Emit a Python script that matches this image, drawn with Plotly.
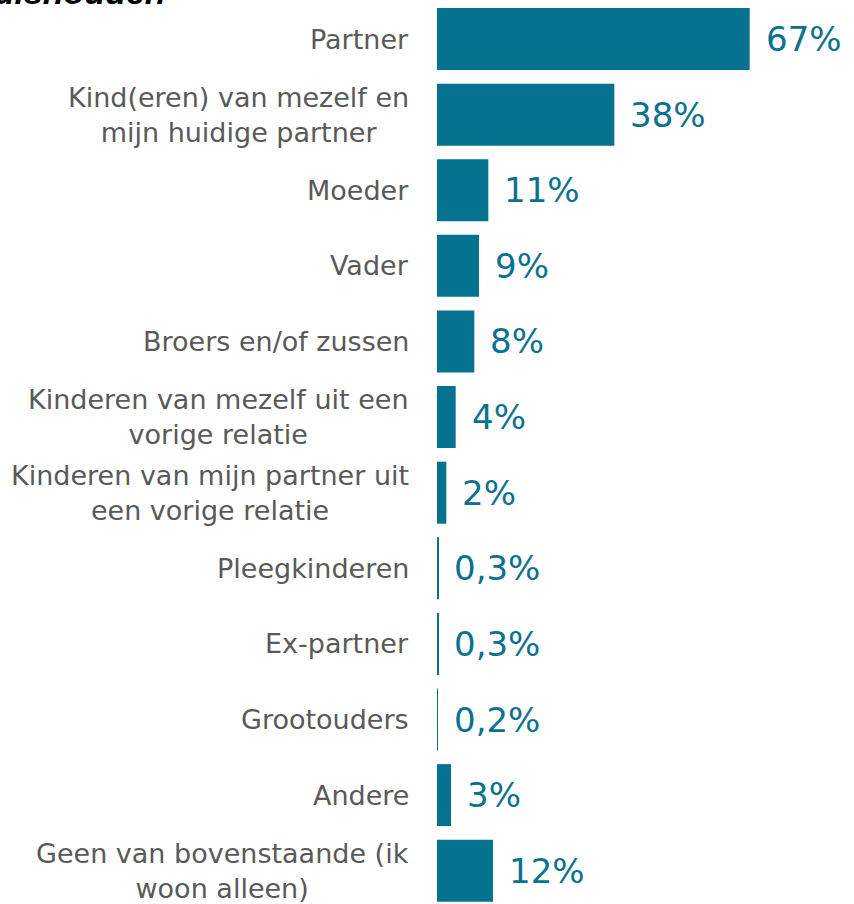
import plotly.graph_objects as go

categories = [
    "Partner",
    "Kind(eren) van mezelf en<br>mijn huidige partner",
    "Moeder",
    "Vader",
    "Broers en/of zussen",
    "Kinderen van mezelf uit een<br>vorige relatie",
    "Kinderen van mijn partner uit<br>een vorige relatie",
    "Pleegkinderen",
    "Ex-partner",
    "Grootouders",
    "Andere",
    "Geen van bovenstaande (ik<br>woon alleen)",
]
values = [67, 38, 11, 9, 8, 4, 2, 0.3, 0.3, 0.2, 3, 12]
value_labels = ["67%", "38%", "11%", "9%", "8%", "4%", "2%", "0,3%", "0,3%", "0,2%", "3%", "12%"]
title_text = "Samenstelling huishouden"

BAR = "#05728F"
VAL = "#0B7190"
LAB = "#595959"

W, H = 854, 904
L = 437
fig = go.Figure()
fig.add_trace(go.Bar(
    x=values, y=list(range(len(categories))), orientation="h",
    marker=dict(color=BAR, line=dict(width=0)),
    hoverinfo="skip",
))

annotations = []
for i, (cat, v, lab) in enumerate(zip(categories, values, value_labels)):
    annotations.append(dict(
        x=0, xref="paper", y=i, yref="y", xanchor="right", yanchor="middle",
        xshift=-26, text=cat, showarrow=False, align="center",
        font=dict(family="DejaVu Sans", size=27, color=LAB),
    ))
    annotations.append(dict(
        x=v, xref="x", y=i, yref="y", xanchor="left", yanchor="middle",
        xshift=14, text=lab, showarrow=False,
        font=dict(family="DejaVu Sans", size=34, color=VAL),
    ))

annotations.append(dict(
    x=(168 - L) / (W - L), xref="paper", y=1 - 13 / H, yref="paper",
    xanchor="right", yanchor="bottom", text="<b><i>" + title_text + "</i></b>",
    showarrow=False, font=dict(family="Liberation Sans", size=34, color="#000000"),
))

fig.update_layout(
    width=W, height=H,
    margin=dict(l=L, r=0, t=0, b=0),
    paper_bgcolor="white", plot_bgcolor="white",
    bargap=0.18,
    showlegend=False,
    xaxis=dict(range=[0, 89.35], visible=False, fixedrange=True),
    yaxis=dict(range=[11.44, -0.516], visible=False, fixedrange=True),
    annotations=annotations,
)

fig.write_html("out.html", config={"displayModeBar": False},
               post_script="document.body.style.margin='0';document.body.style.overflow='hidden';")
